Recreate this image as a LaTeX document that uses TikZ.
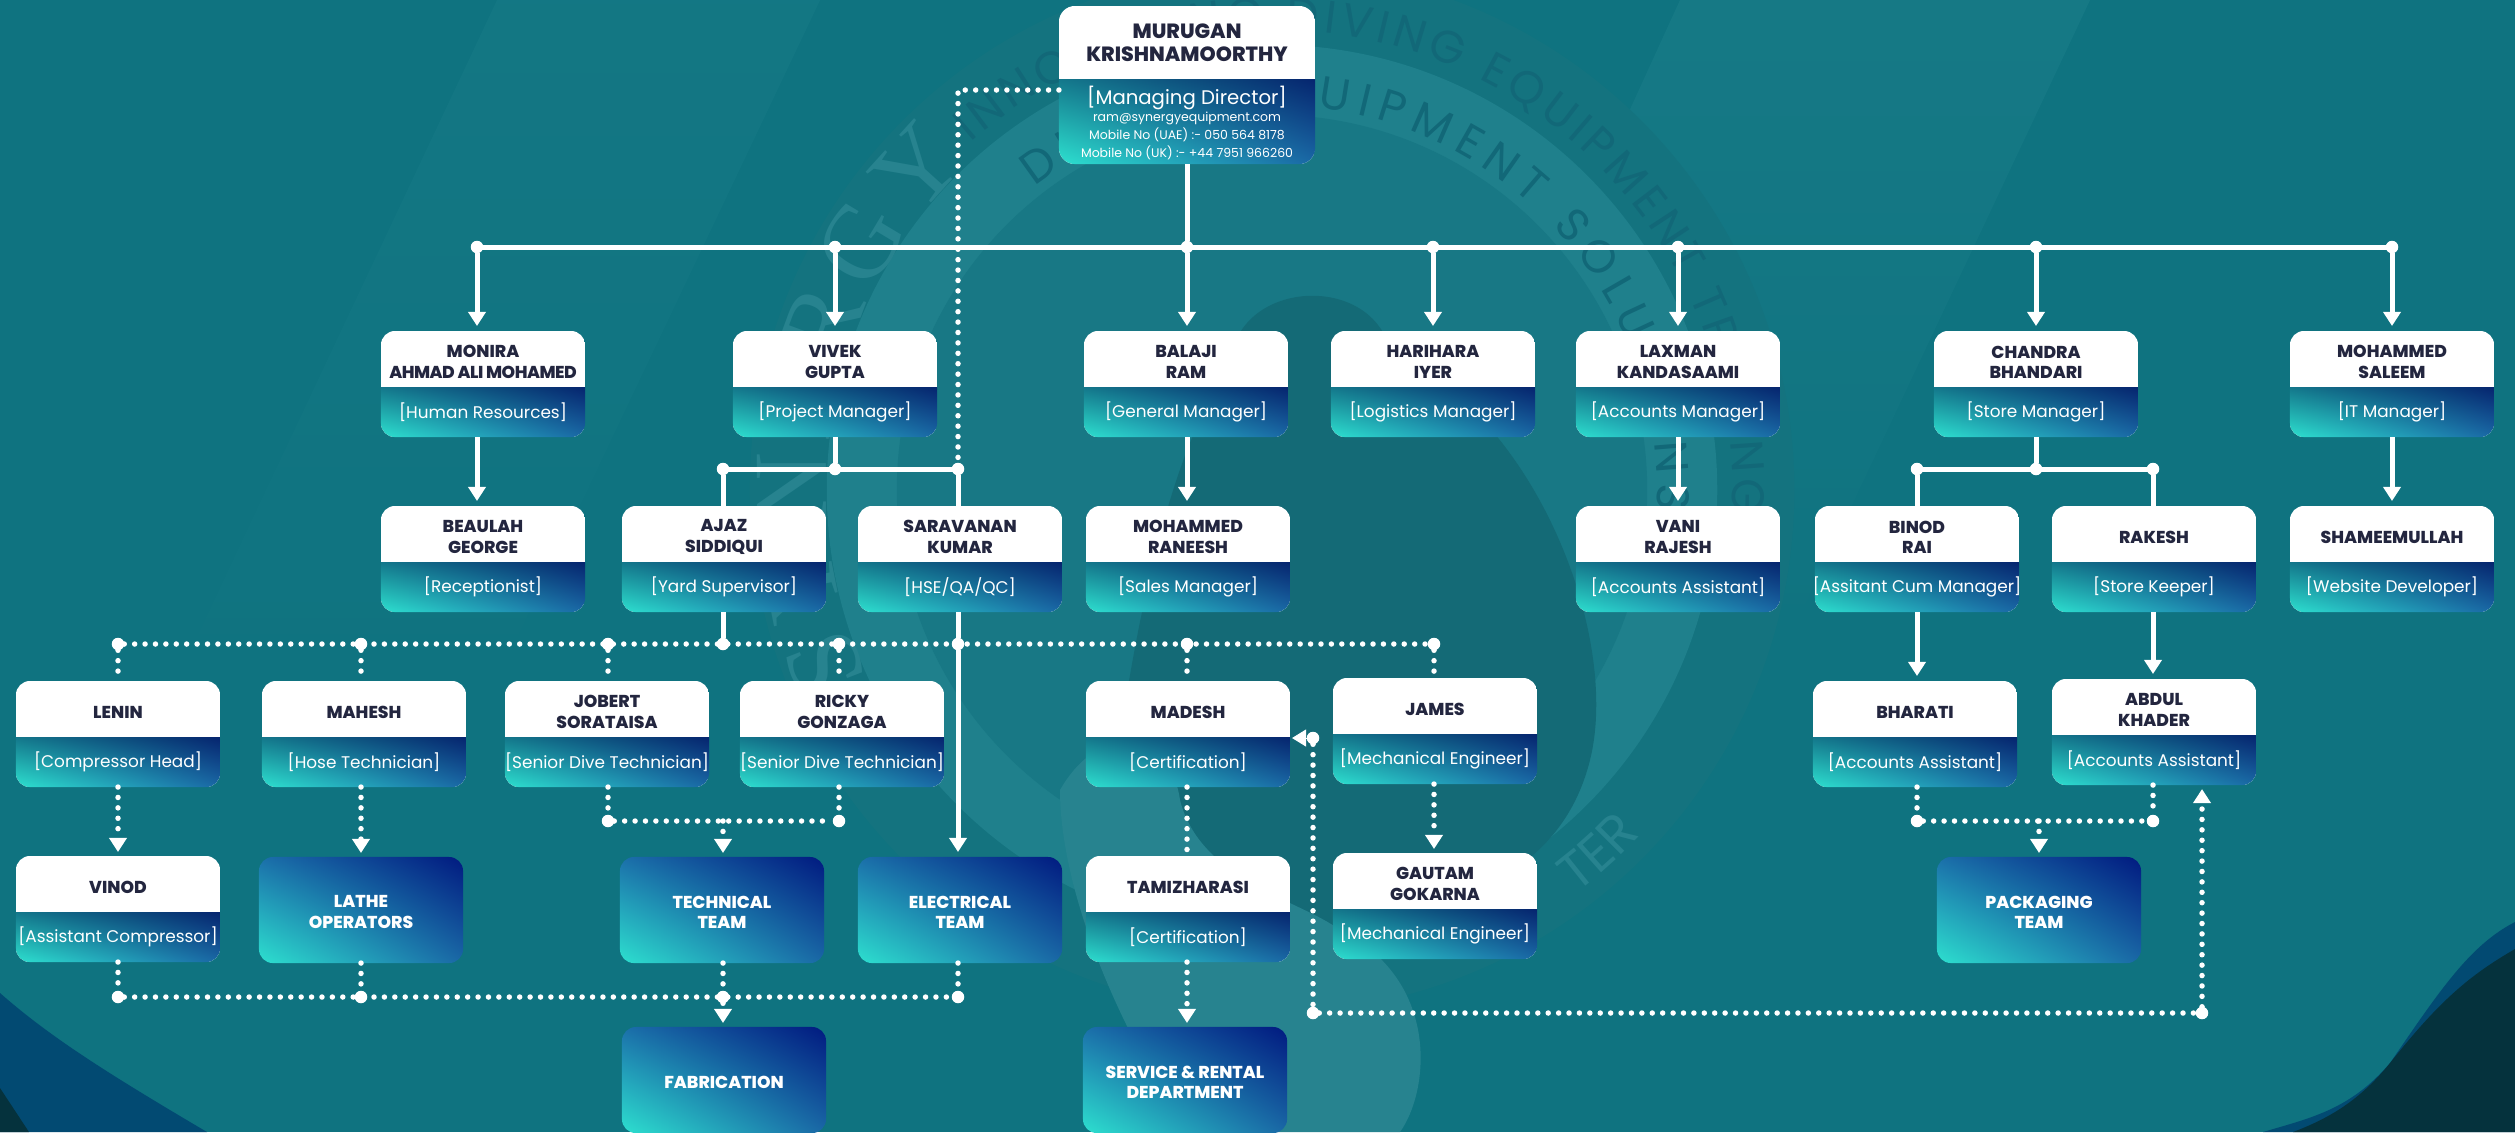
\documentclass[tikz,border=0pt]{standalone}
\usepackage{fontspec}
\setmainfont{Poppins}[BoldFont={Poppins ExtraBold}]
\newfontfamily\sealsans{Poppins}
\newfontfamily\sealserif{Liberation Serif}
\usetikzlibrary{arrows.meta,calc,decorations.text,fadings,shadings}

\definecolor{bgteal}{HTML}{0F7380}
\definecolor{bandteal}{HTML}{1B7E8A}
\definecolor{sealdisc}{HTML}{14737F}
\definecolor{sealring}{HTML}{1F808C}
\definecolor{sealinner}{HTML}{187885}
\definecolor{sealdark}{HTML}{146A76}
\definecolor{seallight}{HTML}{27838F}
\definecolor{sealtext}{HTML}{126878}
\definecolor{wavea}{HTML}{024A72}
\definecolor{waveb}{HTML}{05323D}
\definecolor{nameink}{HTML}{23263F}
\definecolor{gradteal}{HTML}{2DE0CF}
\definecolor{gradblue}{HTML}{1A68A6}
\definecolor{gradnavy}{HTML}{011A80}
\definecolor{gradside}{HTML}{1B70AA}
\definecolor{rolenavy}{HTML}{062670}
\definecolor{roleside}{HTML}{14798C}

\tikzset{
    cardbox/.style={minimum width=2.04cm, minimum height=1.06cm, inner sep=0pt, outer sep=0pt},
    nametext/.style={inner sep=0pt, align=center, text=nameink, font=\fontsize{4.9}{5.75}\selectfont\bfseries},
    roletext/.style={inner sep=0pt, align=center, text=white, font=\fontsize{4.8}{6}\selectfont},
    teamtext/.style={inner sep=0pt, align=center, text=white, font=\fontsize{4.9}{5.75}\selectfont\bfseries},
    jdot/.style={circle, fill=white, inner sep=0pt, outer sep=0pt, minimum size=0.125cm},
    solidline/.style={draw=white, line width=0.05cm},
    solidarrow/.style={solidline, -{Triangle[width=0.17cm,length=0.14cm]}, shorten >=0.05cm},
    dotline/.style={draw=white, line width=0.055cm, line cap=round, dash pattern=on 0pt off 0.104cm},
    dotarrow/.style={dotline, -{Triangle[width=0.17cm,length=0.14cm]}, shorten >=0.04cm},
}

% id, centre x, top y, name, role
\newcommand{\staffcard}[5]{
    \node[cardbox] (#1) at (#2,#3+53) {};
    \begin{scope}
        \clip[rounded corners=0.14cm] (#1.north west) rectangle (#1.south east);
        \fill[white] (#1.north west) rectangle (#1.south east);
        \shade[lower left=gradteal, upper left=roleside, upper right=rolenavy, lower right=gradblue]
            ($(#1.north west)+(0,57)$) rectangle (#1.south east);
    \end{scope}
    \node[nametext] (#1-name) at ($(#1.north)+(0,31)$) {#4};
    \node[roletext] (#1-role) at ($(#1.north)+(0,81)$) {#5};
}
% id, centre x, top y, label
\newcommand{\teamcard}[4]{
    \node[cardbox] (#1) at (#2,#3+53) {};
    \shade[rounded corners=0.14cm, lower left=gradteal, upper left=gradside, upper right=gradnavy, lower right=gradblue]
        (#1.north west) rectangle (#1.south east);
    \node[teamtext] (#1-name) at ($(#1.center)+(0,2)$) {#4};
}

\begin{document}
\begin{tikzpicture}[x=0.01cm,y=-0.01cm]
    \useasboundingbox (0,0) rectangle (2515,1132);

    % background
    \begin{scope}
        \clip (0,0) rectangle (2515,1132);
        \fill[bgteal] (0,0) rectangle (2515,1132);
        \fill[bandteal, path fading=south, fill opacity=0.4] (497,0) -- (820,0) -- (440,800) -- (120,800) -- cycle;
        \fill[bandteal, path fading=south, fill opacity=0.6] (1680,0) -- (2090,0) -- (1760,700) -- (1360,700) -- cycle;

        \coordinate (seal) at (1272,490);
        \fill[sealdisc] (seal) circle (5.22cm);
        \fill[sealring] (seal) circle (4.45cm);
        \fill[sealinner] (seal) circle (3.75cm);
        \fill[sealdark] (1100,900) .. controls (1130,600) and (1180,430) .. (1230,370)
            .. controls (1230,280) and (1370,270) .. (1390,350)
            .. controls (1540,420) and (1620,640) .. (1590,760)
            .. controls (1560,880) and (1450,900) .. (1380,930) -- (1250,940) -- cycle;
        \fill[seallight] (1060,790) .. controls (1100,720) and (1170,730) .. (1180,800)
            .. controls (1200,880) and (1300,900) .. (1340,930)
            .. controls (1440,980) and (1430,1090) .. (1400,1132) -- (1190,1132)
            .. controls (1130,1050) and (1060,900) .. cycle;

        \path[decorate, decoration={text along path, text align={fit to path},
            text={|\sealserif\fontsize{30}{30}\selectfont\color{seallight}|SYNERGY}}]
            ($(seal)+(205:4.45cm)$) arc[start angle=205, end angle=133, radius=4.45cm];
        \path[decorate, decoration={text along path, text align={fit to path},
            text={|\sealsans\fontsize{13}{13}\selectfont\color{sealtext}|INNOVATING DIVING EQUIPMENT TRADING}}]
            ($(seal)+(131:4.6cm)$) arc[start angle=131, end angle=-3, radius=4.6cm];
        \path[decorate, decoration={text along path, text align={fit to path},
            text={|\sealsans\fontsize{13}{13}\selectfont\color{sealtext}|DIVING EQUIPMENT SOLUTIONS}}]
            ($(seal)+(128:3.85cm)$) arc[start angle=128, end angle=-3, radius=3.85cm];
        \path[decorate, decoration={text along path, text align={center},
            text={|\sealsans\fontsize{15}{15}\selectfont\color{seallight}|TER}}]
            ($(seal)+(-62:5.05cm)$) arc[start angle=-62, end angle=-34, radius=5.05cm];

        \fill[wavea] (0,993) .. controls (50,1037) and (107,1073) .. (207,1132) -- (0,1132) -- cycle;
        \fill[waveb] (0,1088) -- (29,1132) -- (0,1132) -- cycle;
        \fill[wavea] (2515,922) .. controls (2470,945) and (2440,990) .. (2390,1063)
            .. controls (2350,1110) and (2310,1118) .. (2263,1132) -- (2515,1132) -- cycle;
        \fill[waveb] (2515,949) .. controls (2470,975) and (2440,1000) .. (2390,1063)
            .. controls (2360,1100) and (2330,1118) .. (2293,1132) -- (2515,1132) -- cycle;
    \end{scope}

    % cards
    \node[cardbox, minimum width=2.56cm, minimum height=1.58cm] (murugan) at (1187,85) {};
    \begin{scope}
        \clip[rounded corners=0.16cm] (murugan.north west) rectangle (murugan.south east);
        \fill[white] (murugan.north west) rectangle (murugan.south east);
        \shade[lower left=gradteal, upper left=roleside, upper right=rolenavy, lower right=gradblue]
            ($(murugan.north west)+(0,74)$) rectangle (murugan.south east);
    \end{scope}
    \node[nametext, font=\fontsize{5.85}{6.55}\selectfont\bfseries] (murugan-name) at (1187,43) {MURUGAN\\KRISHNAMOORTHY};
    \node[roletext, font=\fontsize{5.6}{6}\selectfont] (murugan-role) at (1187,98) {[Managing Director]};
    \node[roletext, font=\fontsize{3.55}{5}\selectfont] (murugan-mail) at (1187,118) {ram@synergyequipment.com};
    \node[roletext, font=\fontsize{3.55}{5}\selectfont] (murugan-uae) at (1187,135) {Mobile No (UAE) :- 050 564 8178};
    \node[roletext, font=\fontsize{3.55}{5}\selectfont] (murugan-uk) at (1187,153) {Mobile No (UK) :- +44 7951 966260};

    \staffcard{monira}{483}{331}{MONIRA\\{\addfontfeature{LetterSpace=-3}AHMAD ALI MOHAMED}}{[Human Resources]}
    \staffcard{vivek}{835}{331}{VIVEK\\GUPTA}{[Project Manager]}
    \staffcard{balaji}{1186}{331}{BALAJI\\RAM}{[General Manager]}
    \staffcard{harihara}{1433}{331}{HARIHARA\\IYER}{[Logistics Manager]}
    \staffcard{laxman}{1678}{331}{LAXMAN\\KANDASAAMI}{[Accounts Manager]}
    \staffcard{chandra}{2036}{331}{CHANDRA\\BHANDARI}{[Store Manager]}
    \staffcard{saleem}{2392}{331}{MOHAMMED\\SALEEM}{[IT Manager]}

    \staffcard{beaulah}{483}{506}{BEAULAH\\GEORGE}{[Receptionist]}
    \staffcard{ajaz}{724}{506}{AJAZ\\SIDDIQUI}{[Yard Supervisor]}
    \staffcard{saravanan}{960}{506}{SARAVANAN\\KUMAR}{[HSE/QA/QC]}
    \staffcard{raneesh}{1188}{506}{MOHAMMED\\RANEESH}{[Sales Manager]}
    \staffcard{vani}{1678}{506}{VANI\\RAJESH}{[Accounts Assistant]}
    \staffcard{binod}{1917}{506}{BINOD\\RAI}{[Assitant Cum Manager]}
    \staffcard{rakesh}{2154}{506}{RAKESH}{[Store Keeper]}
    \staffcard{shameem}{2392}{506}{SHAMEEMULLAH}{[Website Developer]}

    \staffcard{lenin}{118}{681}{LENIN}{[Compressor Head]}
    \staffcard{mahesh}{364}{681}{MAHESH}{[Hose Technician]}
    \staffcard{jobert}{607}{681}{JOBERT\\SORATAISA}{[Senior Dive Technician]}
    \staffcard{ricky}{842}{681}{RICKY\\GONZAGA}{[Senior Dive Technician]}
    \staffcard{madesh}{1188}{681}{MADESH}{[Certification]}
    \staffcard{james}{1435}{678}{JAMES}{[Mechanical Engineer]}
    \staffcard{bharati}{1915}{681}{BHARATI}{[Accounts Assistant]}
    \staffcard{abdul}{2154}{679}{ABDUL\\KHADER}{[Accounts Assistant]}

    \staffcard{vinod}{118}{856}{VINOD}{[Assistant Compressor]}
    \teamcard{lathe}{361}{857}{LATHE\\OPERATORS}
    \teamcard{technical}{722}{857}{TECHNICAL\\TEAM}
    \teamcard{electrical}{960}{857}{ELECTRICAL\\TEAM}
    \staffcard{tamil}{1188}{856}{TAMIZHARASI}{[Certification]}
    \staffcard{gautam}{1435}{853}{GAUTAM\\GOKARNA}{[Mechanical Engineer]}
    \teamcard{packaging}{2039}{857}{PACKAGING\\TEAM}

    \teamcard{fabrication}{724}{1027}{FABRICATION}
    \teamcard{service}{1185}{1027}{SERVICE \& RENTAL\\DEPARTMENT}

    % junctions
    \node[jdot] (ta) at (477,247) {};
    \node[jdot] (tb) at (835,247) {};
    \node[jdot] (tc) at (1187,247) {};
    \node[jdot] (td) at (1433,247) {};
    \node[jdot] (te) at (1678,247) {};
    \node[jdot] (tf) at (2036,247) {};
    \node[jdot] (tg) at (2392,247) {};
    \node[jdot] (va) at (723,469) {};
    \node[jdot] (vb) at (835,469) {};
    \node[jdot] (vc) at (958,469) {};
    \node[jdot] (ca) at (1917,469) {};
    \node[jdot] (cb) at (2036,469) {};
    \node[jdot] (cc) at (2153,469) {};
    \node[jdot] (fa) at (118,644) {};
    \node[jdot] (fb) at (361,644) {};
    \node[jdot] (fc) at (608,644) {};
    \node[jdot] (fd) at (723,644) {};
    \node[jdot] (fe) at (839,644) {};
    \node[jdot] (ff) at (958,644) {};
    \node[jdot] (fg) at (1187,644) {};
    \node[jdot] (fh) at (1434,644) {};
    \node[jdot] (ka) at (608,821) {};
    \node[jdot] (kb) at (839,821) {};
    \node[jdot] (pa) at (1917,821) {};
    \node[jdot] (pb) at (2153,821) {};
    \node[jdot] (la) at (118,997) {};
    \node[jdot] (lb) at (361,997) {};
    \node[jdot] (lc) at (723,997) {};
    \node[jdot] (ld) at (958,997) {};
    \node[jdot] (ra) at (1313,738) {};
    \node[jdot] (rb) at (1313,1013) {};
    \node[jdot] (rc) at (2202,1013) {};
    \coordinate (dirturn) at (958,90);
    \coordinate (km) at (723,821);
    \coordinate (pm) at (2039,821);

    % solid lines
    \draw[solidline] (murugan.south) -- (tc);
    \draw[solidline] (ta.center) -- (tg.center);
    \foreach \top/\card in {ta/monira,tb/vivek,tc/balaji,td/harihara,te/laxman,tf/chandra,tg/saleem}
        \draw[solidarrow] (\top) -- (\top |- \card.north);
    \draw[solidarrow] (ta |- monira.south) -- (ta |- beaulah.north);
    \draw[solidarrow] (tc |- balaji.south) -- (tc |- raneesh.north);
    \draw[solidarrow] (te |- laxman.south) -- (te |- vani.north);
    \draw[solidarrow] (tg |- saleem.south) -- (tg |- shameem.north);
    \draw[solidline] (vivek.south -| vb) -- (vb);
    \draw[solidline] (va.center) -- (vc.center);
    \draw[solidline] (va) -- (va |- ajaz.north);
    \draw[solidline] (vc) -- (vc |- saravanan.north);
    \draw[solidline] (chandra.south -| cb) -- (cb);
    \draw[solidline] (ca.center) -- (cc.center);
    \draw[solidline] (ca) -- (ca |- binod.north);
    \draw[solidline] (cc) -- (cc |- rakesh.north);
    \draw[solidline] (fd |- ajaz.south) -- (fd);
    \draw[solidline] (ff |- saravanan.south) -- (ff);
    \draw[solidarrow] (ff) -- (ff |- electrical.north);
    \draw[solidarrow] (ca |- binod.south) -- (ca |- bharati.north);
    \draw[solidarrow] (cc |- rakesh.south) -- (cc |- abdul.north);

    % dotted lines
    \draw[dotline] (dirturn -| murugan.west) -- (dirturn) -- (vc);
    \draw[dotline] (fa) -- (fh);
    \draw[dotline] (fa) -- (fa |- lenin.north);
    \draw[dotline] (fb) -- (fb |- mahesh.north);
    \draw[dotline] (fc) -- (fc |- jobert.north);
    \draw[dotline] (fe) -- (fe |- ricky.north);
    \draw[dotline] (fg) -- (fg |- madesh.north);
    \draw[dotline] (fh) -- (fh |- james.north);
    \draw[dotarrow] (fa |- lenin.south) -- (fa |- vinod.north);
    \draw[dotarrow] (fb |- mahesh.south) -- (fb |- lathe.north);
    \draw[dotline] (ka |- jobert.south) -- (ka);
    \draw[dotline] (kb |- ricky.south) -- (kb);
    \draw[dotline] (ka) -- (kb);
    \draw[dotarrow] (km) -- (km |- technical.north);
    \draw[dotline] (fg |- madesh.south) -- (fg |- tamil.north);
    \draw[dotarrow] (fg |- tamil.south) -- (fg |- service.north);
    \draw[dotarrow] (fh |- james.south) -- (fh |- gautam.north);
    \draw[dotline] (pa |- bharati.south) -- (pa);
    \draw[dotline] (pb |- abdul.south) -- (pb);
    \draw[dotline] (pa) -- (pb);
    \draw[dotarrow] (pm) -- (pm |- packaging.north);
    \draw[dotline] (la |- vinod.south) -- (la);
    \draw[dotline] (lb |- lathe.south) -- (lb);
    \draw[dotline] (lc |- technical.south) -- (lc);
    \draw[dotline] (ld |- electrical.south) -- (ld);
    \draw[dotline] (la) -- (ld);
    \draw[dotarrow] (lc) -- (lc |- fabrication.north);
    \draw[dotline] (ra) -- (rb);
    \draw[dotline] (rb) -- (rc);
    \draw[dotarrow] (rc) -- (rc |- abdul.south);
    \draw[-{Triangle[width=0.17cm,length=0.14cm]}, draw=white, fill=white, line width=0.01cm, shorten >=0.02cm] (ra) -- (ra -| madesh.east);
\end{tikzpicture}
\end{document}
